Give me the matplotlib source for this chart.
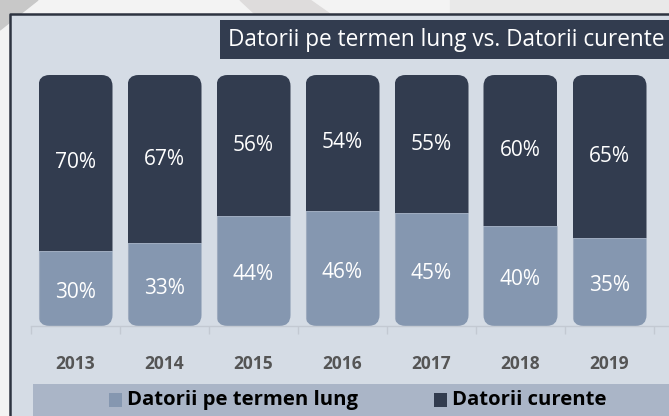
import matplotlib
matplotlib.use("Agg")
import matplotlib.pyplot as plt
from matplotlib.patches import FancyBboxPatch, Rectangle, Polygon
import numpy as np

years = ["2013", "2014", "2015", "2016", "2017", "2018", "2019"]
long_term = [30, 33, 44, 46, 45, 40, 35]
current = [70, 67, 56, 54, 55, 60, 65]
title = "Datorii pe termen lung vs. Datorii curente"
legend_labels = ["Datorii pe termen lung", "Datorii curente"]

W, H = 669, 416
DARK = "#323c4f"
LIGHT = "#8597b0"
PANEL = "#d5dce5"
BAND = "#aab5c7"

plt.rcParams['font.family'] = ['Open Sans', 'DejaVu Sans']
fig = plt.figure(figsize=(W / 100, H / 100), dpi=100)
fig.patch.set_facecolor("#f3f3f3")

# background decoration
bg = fig.add_axes([0, 0, 1, 1])
bg.set_xlim(0, W); bg.set_ylim(H, 0); bg.axis("off")
bg.add_patch(Polygon([(0, 0), (38, 0), (0, 30)], closed=True, color="#c8c8c8", zorder=0))
bg.add_patch(Polygon([(240, 0), (310, 0), (330, 14), (255, 14)], closed=True, color="#dedcdc", zorder=0))
bg.add_patch(Rectangle((450, 0), 219, 14, color="#e9e9e9", zorder=0))
# panel
bg.add_patch(Rectangle((10, 14), W - 10, H - 14, facecolor=PANEL, edgecolor="none", zorder=1))
bg.plot([10, 10, W], [H, 14, 14], color="#2d3340", lw=1.8, zorder=2, solid_capstyle="butt")
# title box
bg.add_patch(Rectangle((220, 20), W - 220, 39, facecolor=DARK, edgecolor="none", zorder=2))
bg.text(446, 40, title, color="white", fontsize=16.3, ha="center", va="center", zorder=3)
# legend band
bg.add_patch(Rectangle((33, 384), W - 33, 32, facecolor=BAND, edgecolor="none", zorder=2))
bg.add_patch(Rectangle((109, 393), 13, 14, facecolor=LIGHT, edgecolor="none", zorder=3))
bg.text(127, 400, legend_labels[0], color="black", fontsize=14.6, fontweight="bold", ha="left", va="center", zorder=3)
bg.add_patch(Rectangle((434, 393), 13, 14, facecolor=DARK, edgecolor="none", zorder=3))
bg.text(452, 400, legend_labels[1], color="black", fontsize=14.6, fontweight="bold", ha="left", va="center", zorder=3)

# chart axes: x=-0.5 at px 31, spacing 89 px; y=0 at px 326, y=100 at px 75
left_px, right_px = 31, W
ax = fig.add_axes([left_px / W, (H - 326) / H, (right_px - left_px) / W, 251 / H])
ax.patch.set_visible(False)
n = len(years)
x = np.arange(n)
ax.set_xlim(-0.5, -0.5 + (right_px - left_px) / 89)
ax.set_ylim(0, 100)
bw = 74 / 89

b1 = ax.bar(x, long_term, width=bw, color=LIGHT, edgecolor="#9eabbf", linewidth=0.8, zorder=2)
b2 = ax.bar(x, current, width=bw, bottom=long_term, color=DARK, edgecolor="none", zorder=2)

# rounded clip shapes
rx = 11 / 89
ry = 11 / 2.51
for i in range(n):
    r = b1[i]
    total = long_term[i] + current[i]
    clip = FancyBboxPatch((r.get_x(), 0), r.get_width(), total,
                          boxstyle=f"round,pad=0,rounding_size={rx}",
                          mutation_aspect=ry / rx, transform=ax.transData,
                          facecolor="none", edgecolor="none")
    ax.add_patch(clip)
    b1[i].set_clip_path(clip)
    b2[i].set_clip_path(clip)
    ax.text(x[i], long_term[i] / 2 - 1.5, f"{long_term[i]}%", color="white", fontsize=15,
            ha="center", va="center", zorder=3)
    ax.text(x[i], long_term[i] + current[i] / 2, f"{current[i]}%", color="white", fontsize=15,
            ha="center", va="center", zorder=3)

for s in ["top", "right", "left"]:
    ax.spines[s].set_visible(False)
ax.spines["bottom"].set_color("#c3c9d2")
ax.spines["bottom"].set_linewidth(1)
ax.set_yticks([])
ax.set_xticks(x)
ax.set_xticklabels(years, fontsize=12.5, fontweight="bold", color="#555555")
ax.tick_params(axis="x", which="major", length=0, pad=21)
ax.set_xticks(np.arange(-0.5, n + 0.5, 1), minor=True)
ax.tick_params(axis="x", which="minor", length=6, color="#c3c9d2", width=1)

fig.savefig("out.png", dpi=100, facecolor=fig.get_facecolor())
